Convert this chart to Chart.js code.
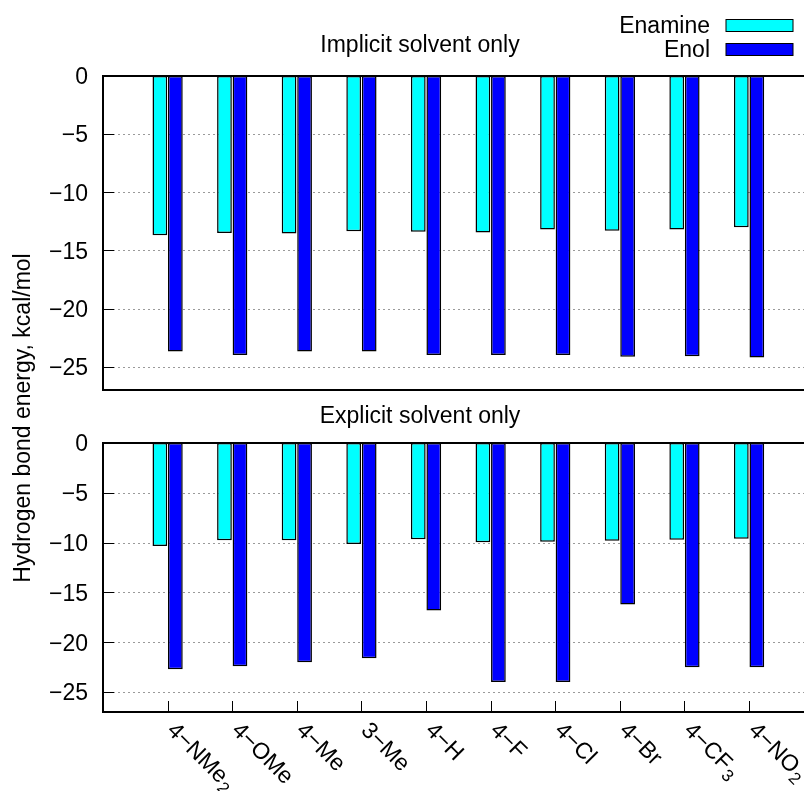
<!DOCTYPE html>
<html><head><meta charset="utf-8">
<script src="https://cdn.jsdelivr.net/npm/chart.js@4/dist/chart.umd.min.js"></script>
<style>
html,body{margin:0;padding:0;background:#fff;overflow:hidden}
#wrap{position:relative;width:804px;height:791px;background:#fff}
canvas{position:absolute;left:0;top:0}
</style></head><body>
<div id="wrap"><canvas id="c1" width="804" height="791"></canvas><canvas id="c2" width="804" height="791"></canvas></div>
<script>
// ---- data ----
const categories = ['4−NMe_2', '4−OMe', '4−Me', '3−Me', '4−H', '4−F', '4−Cl', '4−Br', '4−CF_3', '4−NO_2'];
const seriesNames = ['Enamine', 'Enol'];
const panelTitles = ['Implicit solvent only', 'Explicit solvent only'];
const yAxisTitle = 'Hydrogen bond energy, kcal/mol';
const yTicks = [0, -5, -10, -15, -20, -25];
const implicitEnamine = [-13.7, -13.5, -13.55, -13.35, -13.4, -13.45, -13.2, -13.3, -13.2, -13.0];
const implicitEnol = [-23.7, -24.0, -23.7, -23.7, -24.0, -24.0, -24.0, -24.15, -24.1, -24.2];
const explicitEnamine = [-10.35, -9.75, -9.75, -10.15, -9.65, -9.95, -9.9, -9.8, -9.7, -9.6];
const explicitEnol = [-22.7, -22.4, -22.0, -21.6, -16.8, -24.0, -24.0, -16.2, -22.5, -22.5];

// ---- styling ----
const FONT = '"Liberation Sans", Arial, Helvetica, sans-serif';
const FS = 23;
const colors = ['#00ffff', '#0000ff'];
Chart.defaults.font.family = FONT;
Chart.defaults.font.size = FS;
Chart.defaults.color = '#000';

const fmt = v => v < 0 ? '\u2212' + Math.abs(v) : String(v);
const pts = arr => arr.map((v, i) => ({x: i, y: v}));

function makeDatasets(a, b) {
  return [a, b].map((arr, k) => ({
    label: seriesNames[k],
    data: pts(arr),
    backgroundColor: colors[k],
    borderColor: '#000',
    borderWidth: 1.5,
    borderSkipped: false,
    categoryPercentage: 0.48,
    barPercentage: 0.95
  }));
}

function panelPlugin(isBottom) {
  return {
    id: 'panel' + (isBottom ? 'B' : 'T'),
    beforeDatasetsDraw(chart) {
      const {ctx, chartArea: a, scales} = chart;
      const y = scales.y;
      ctx.save();
      ctx.strokeStyle = '#9a9a9a';
      ctx.lineWidth = 1;
      ctx.setLineDash([2, 3]);
      yTicks.forEach(v => {
        if (v === 0) return;
        const py = Math.round(y.getPixelForValue(v)) + 0.5;
        ctx.beginPath(); ctx.moveTo(a.left, py); ctx.lineTo(a.right, py); ctx.stroke();
      });
      ctx.restore();
    },
    afterDatasetsDraw(chart) {
      const {ctx, chartArea: a, scales} = chart;
      const y = scales.y, x = scales.x;
      ctx.save();
      ctx.strokeStyle = '#000';
      ctx.lineWidth = 1;
      yTicks.forEach(v => {
        const py = Math.round(y.getPixelForValue(v)) + 0.5;
        ctx.beginPath(); ctx.moveTo(a.left, py); ctx.lineTo(a.left + 11, py); ctx.stroke();
      });
      if (isBottom) {
        categories.forEach((c, i) => {
          const px = Math.round(x.getPixelForValue(i)) + 0.5;
          ctx.beginPath(); ctx.moveTo(px, a.bottom); ctx.lineTo(px, a.bottom - 11); ctx.stroke();
        });
      }
      ctx.lineWidth = 2;
      ctx.beginPath();
      ctx.moveTo(a.right + 2, a.top); ctx.lineTo(a.left, a.top);
      ctx.lineTo(a.left, a.bottom); ctx.lineTo(a.right + 2, a.bottom);
      ctx.stroke();
      ctx.restore();
    },
    afterDraw(chart) {
      const {ctx, chartArea: a, scales} = chart;
      ctx.save();
      ctx.fillStyle = '#000';
      ctx.font = FS + 'px ' + FONT;
      ctx.textAlign = 'center';
      ctx.textBaseline = 'alphabetic';
      ctx.fillText(panelTitles[isBottom ? 1 : 0], 420, isBottom ? 423 : 52);
      if (!isBottom) {
        // legend
        const ys = [33, 57];
        seriesNames.forEach((n, k) => {
          ctx.textAlign = 'right';
          ctx.fillStyle = '#000';
          ctx.fillText(n, 710, ys[k]);
          ctx.fillStyle = colors[k];
          ctx.fillRect(726, ys[k] - 13.5, 67, 12);
          ctx.strokeStyle = '#000';
          ctx.lineWidth = 1;
          ctx.strokeRect(726, ys[k] - 13.5, 67, 12);
        });
        // y axis title
        ctx.save();
        ctx.translate(24, 418);
        ctx.rotate(-Math.PI / 2);
        ctx.textAlign = 'center';
        ctx.textBaseline = 'middle';
        ctx.fillStyle = '#000';
        ctx.fillText(yAxisTitle, 0, 0);
        ctx.restore();
      } else {
        const x = scales.x;
        categories.forEach((lab, i) => {
          const px = x.getPixelForValue(i);
          const [main, sub] = lab.split('_');
          ctx.save();
          ctx.translate(px + 3, a.bottom + 15);
          ctx.rotate(Math.PI / 4);
          ctx.font = FS + 'px ' + FONT;
          ctx.textAlign = 'left';
          ctx.textBaseline = 'middle';
          ctx.fillText(main, 0, 0);
          if (sub) {
            const w = ctx.measureText(main).width;
            ctx.font = '17px ' + FONT;
            ctx.fillText(sub, w + 1, 7);
          }
          ctx.restore();
        });
      }
      ctx.restore();
    }
  };
}

function makeChart(id, dsA, dsB, isBottom) {
  return new Chart(document.getElementById(id), {
    type: 'bar',
    data: {datasets: makeDatasets(dsA, dsB)},
    options: {
      responsive: false,
      animation: false,
      devicePixelRatio: 1,
      layout: {padding: isBottom ? {top: 443, bottom: 79, left: 0, right: 0} : {top: 76, bottom: 401, left: 0, right: 0}},
      plugins: {legend: {display: false}, tooltip: {enabled: false}, title: {display: false}},
      scales: {
        x: {
          type: 'linear', min: -1, max: 9.85, offset: false,
          grid: {display: false, drawTicks: false}, border: {display: false},
          ticks: {display: false},
          afterBuildTicks: s => { s.ticks = categories.map((c, i) => ({value: i})); },
          afterFit: s => { s.height = 0; }
        },
        y: {
          type: 'linear', min: -27, max: 0,
          grid: {display: false, drawTicks: false}, border: {display: false},
          ticks: {padding: 15, labelOffset: 2, callback: v => fmt(v), font: {size: FS, family: FONT}, color: '#000'},
          afterBuildTicks: s => { s.ticks = yTicks.map(v => ({value: v})); },
          afterFit: s => { s.width = 103; }
        }
      }
    },
    plugins: [panelPlugin(isBottom)]
  });
}

makeChart('c1', implicitEnamine, implicitEnol, false);
makeChart('c2', explicitEnamine, explicitEnol, true);
</script>
</body></html>
